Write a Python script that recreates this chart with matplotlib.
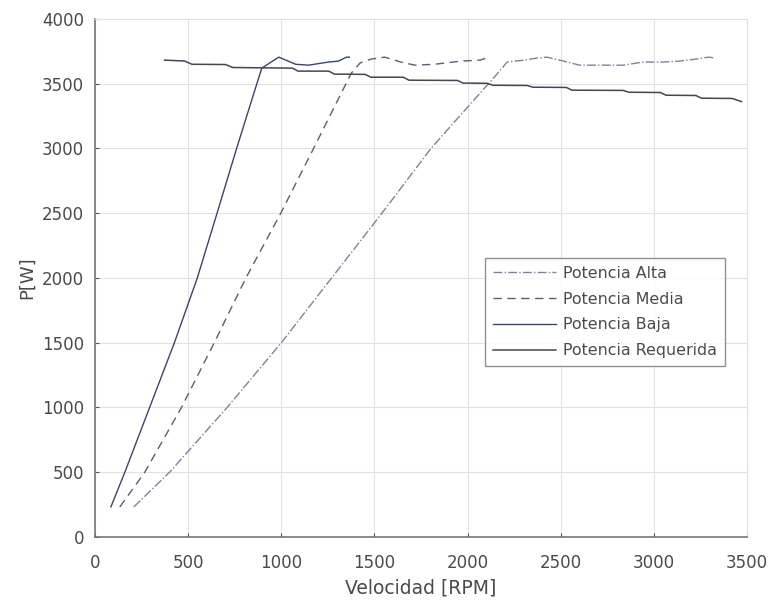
import matplotlib
matplotlib.use("Agg")
import matplotlib.pyplot as plt

plt.rcParams['font.family'] = ['DejaVu Sans']

# Potencia Alta (dash-dot)
rpm_alta = [208, 400, 709, 1000, 1270, 1540, 1803, 1946, 2148, 2212, 2303, 2372,
            2425, 2516, 2601, 2729, 2836, 2942, 3049, 3134, 3225, 3294, 3320]
p_alta = [232, 500, 1000, 1500, 2000, 2500, 3000, 3232, 3558, 3667, 3682, 3698,
          3705, 3674, 3643, 3643, 3643, 3667, 3667, 3674, 3690, 3705, 3700]

# Potencia Media (dashed)
rpm_media = [133, 267, 464, 640, 810, 997, 1173, 1375, 1423, 1482, 1555, 1642,
             1716, 1823, 1962, 2068, 2100]
p_media = [232, 500, 1000, 1500, 2000, 2500, 3000, 3580, 3660, 3690, 3705, 3667,
           3643, 3650, 3674, 3682, 3698]

# Potencia Baja (solid)
rpm_baja = [85, 160, 293, 426, 549, 655, 760, 825, 895, 986, 1077, 1146, 1253,
            1306, 1350, 1365]
p_baja = [232, 500, 1000, 1500, 2000, 2500, 3000, 3300, 3620, 3705, 3650, 3643,
          3667, 3674, 3705, 3705]

# Potencia Requerida (solid, stepped)
rpm_req = [373, 480, 520, 700, 740, 1060, 1090, 1255, 1285, 1450, 1480, 1655,
           1685, 1945, 1975, 2105, 2135, 2320, 2350, 2530, 2560, 2835, 2865,
           3035, 3065, 3225, 3255, 3420, 3470]
p_req = [3682, 3675, 3650, 3648, 3625, 3620, 3597, 3597, 3574, 3572, 3550, 3550,
         3527, 3525, 3505, 3503, 3488, 3486, 3473, 3471, 3450, 3448, 3434, 3432,
         3411, 3409, 3388, 3386, 3362]

xticks = [0, 500, 1000, 1500, 2000, 2500, 3000, 3500]
yticks = [0, 500, 1000, 1500, 2000, 2500, 3000, 3500, 4000]

fig = plt.figure(figsize=(7.72, 6.01), dpi=100)
ax = fig.add_axes([0.1231, 0.1065, 0.8446, 0.862])

ax.plot(rpm_alta, p_alta, linestyle='-.', color='#80839a', lw=1.0, label='Potencia Alta')
ax.plot(rpm_media, p_media, linestyle=(0, (6, 4)), color='#5a5d78', lw=1.0, label='Potencia Media')
ax.plot(rpm_baja, p_baja, linestyle='-', color='#3e4270', lw=1.0, label='Potencia Baja')
ax.plot(rpm_req, p_req, linestyle='-', color='#45464f', lw=1.1, label='Potencia Requerida')

ax.set_xlim(0, 3500)
ax.set_ylim(0, 4000)
ax.set_xticks(xticks)
ax.set_yticks(yticks)
ax.grid(True, color='#e2e2e2', lw=0.8)
ax.set_axisbelow(True)

for side in ['top', 'right']:
    ax.spines[side].set_color('#e0e0e0')
for side in ['left', 'bottom']:
    ax.spines[side].set_color('#777777')
    ax.spines[side].set_linewidth(1.2)

ax.tick_params(direction='in', length=3, color='#555555', labelsize=12,
               labelcolor='#4a4a4a')
ax.tick_params(axis='x', pad=12)
ax.tick_params(axis='y', pad=8)
ax.set_xlabel('Velocidad [RPM]', fontsize=13.5, color='#4a4a4a', labelpad=5)
ax.set_ylabel('P[W]', fontsize=13, color='#4a4a4a', labelpad=4)

leg = ax.legend(loc='upper right', bbox_to_anchor=(0.9665, 0.5388), fontsize=11.4,
                frameon=True, fancybox=False, edgecolor='#777777',
                borderaxespad=0, handlelength=4.0, handletextpad=0.45,
                borderpad=0.5, labelspacing=0.68)
leg.get_frame().set_linewidth(1.0)
for t in leg.get_texts():
    t.set_color('#4a4a4a')

fig.savefig('out.png', dpi=100)
